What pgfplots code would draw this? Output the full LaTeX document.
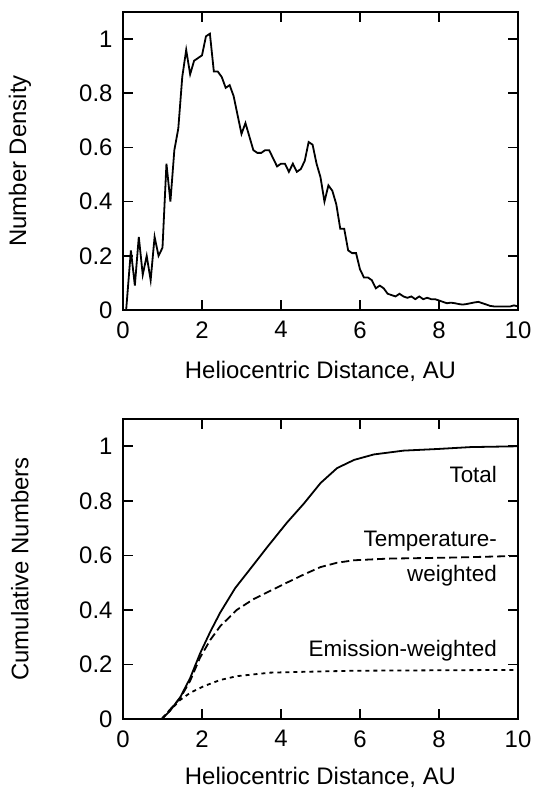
\documentclass[border=0pt]{standalone}
\usepackage{fontspec}
\setmainfont{Liberation Sans}
\usepackage{pgfplots}
\pgfplotsset{compat=1.18}
\begin{document}
\begin{tikzpicture}[x=1bp,y=1bp]
\pgfplotsset{
  myaxis/.style={
    scale only axis,
    width=395bp,
    xmin=0, xmax=10, ymin=0, ymax=1.1,
    xtick={0,2,4,6,8,10},
    ytick={0,0.2,0.4,0.6,0.8,1},
    tick align=inside,
    major tick length=10bp,
    axis line style={line width=1.7bp},
    every tick/.style={line width=1.6bp, black},
    /pgf/number format/assume math mode=true,
    tick label style={font=\fontsize{24}{28}\selectfont},
    yticklabel style={xshift=-7bp},
    xticklabel style={yshift=-8bp},
    xlabel={Heliocentric Distance, AU},
    every axis y label/.style={at={(axis description cs:-0.261,0.5)}, anchor=center, rotate=90, font=\fontsize{24}{28}\selectfont},
  }
}
\begin{axis}[myaxis, at={(123bp,481bp)}, anchor=south west, height=298bp,
  ylabel={Number Density},
  every axis x label/.style={at={(axis description cs:0.5,-0.205)}, anchor=center, font=\fontsize{24}{28}\selectfont}]
\addplot[black, line width=1.8bp] coordinates {
(0.08,0) (0.2,0.22) (0.3,0.09) (0.4,0.27) (0.5,0.13) (0.6,0.20) (0.7,0.11) (0.8,0.27) (0.9,0.20) (1.0,0.23)
(1.1,0.54) (1.2,0.40) (1.3,0.59) (1.4,0.67) (1.5,0.86) (1.6,0.96) (1.7,0.87) (1.8,0.92) (1.9,0.93) (2.0,0.94)
(2.1,1.01) (2.2,1.02) (2.3,0.88) (2.4,0.88) (2.5,0.86) (2.6,0.82) (2.7,0.83) (2.8,0.79) (2.9,0.72) (3.0,0.65)
(3.1,0.69) (3.2,0.64) (3.3,0.59) (3.4,0.58) (3.5,0.58) (3.6,0.59) (3.7,0.59) (3.8,0.56) (3.9,0.53) (4.0,0.54)
(4.1,0.54) (4.2,0.51) (4.3,0.54) (4.4,0.51) (4.5,0.52) (4.6,0.55) (4.7,0.62) (4.8,0.61) (4.9,0.54) (5.0,0.49)
(5.1,0.40) (5.2,0.46) (5.3,0.44) (5.4,0.39) (5.5,0.30) (5.6,0.30) (5.7,0.22) (5.8,0.21) (5.9,0.21) (6.0,0.15)
(6.1,0.12) (6.2,0.12) (6.3,0.11) (6.4,0.08) (6.5,0.09) (6.6,0.08) (6.7,0.06) (6.8,0.055) (6.9,0.05) (7.0,0.06)
(7.1,0.05) (7.2,0.045) (7.3,0.05) (7.4,0.04) (7.5,0.05) (7.6,0.04) (7.7,0.045) (7.8,0.04) (7.9,0.04) (8.0,0.035)
(8.1,0.03) (8.2,0.025) (8.3,0.027) (8.4,0.025) (8.5,0.022) (8.6,0.02) (8.7,0.022) (8.8,0.025) (8.9,0.028) (9.0,0.03)
(9.1,0.025) (9.2,0.02) (9.3,0.015) (9.4,0.013) (9.5,0.013) (9.6,0.013) (9.7,0.013) (9.8,0.013) (9.9,0.017) (10.0,0.013)
};
\end{axis}
\begin{axis}[myaxis, at={(123bp,72bp)}, anchor=south west, height=300bp,
  ylabel={Cumulative Numbers},
  every axis x label/.style={at={(axis description cs:0.5,-0.194)}, anchor=center, font=\fontsize{24}{28}\selectfont}]
\addplot[black, line width=1.8bp] coordinates {
(0,0) (0.98,0) (1.19,0.03) (1.45,0.08) (1.70,0.15) (1.95,0.24) (2.21,0.32) (2.46,0.39) (2.84,0.48)
(3.22,0.55) (3.65,0.63) (4.15,0.72) (4.58,0.79) (5.0,0.865) (5.42,0.92) (5.85,0.95) (6.35,0.97)
(7.1,0.984) (7.96,0.99) (8.8,0.997) (10,1.0)
};
\addplot[black, line width=1.8bp, dash pattern=on 8bp off 4bp] coordinates {
(0,0) (0.98,0) (1.45,0.077) (1.70,0.14) (1.95,0.225) (2.21,0.29) (2.46,0.34) (2.88,0.40) (3.31,0.44)
(3.73,0.47) (4.15,0.50) (4.58,0.53) (5.0,0.557) (5.42,0.573) (5.85,0.582) (6.7,0.588) (8.38,0.592) (10,0.598)
};
\addplot[black, line width=1.8bp, dash pattern=on 4bp off 4bp] coordinates {
(0,0) (0.98,0) (1.45,0.07) (1.70,0.096) (2.04,0.12) (2.46,0.143) (2.88,0.157) (3.73,0.17) (4.58,0.173)
(5.85,0.177) (10,0.18)
};
\node[anchor=east, inner sep=0pt, font=\fontsize{22.5}{26}\selectfont] at (axis cs:9.47,0.898) {Total};
\node[anchor=east, inner sep=0pt, font=\fontsize{22.5}{26}\selectfont] at (axis cs:9.47,0.652) {Temperature-};
\node[anchor=east, inner sep=0pt, font=\fontsize{22.5}{26}\selectfont] at (axis cs:9.47,0.526) {weighted};
\node[anchor=east, inner sep=0pt, font=\fontsize{22.5}{26}\selectfont] at (axis cs:9.47,0.251) {Emission-weighted};
\end{axis}
\pgfresetboundingbox
\path[use as bounding box] (0bp,0bp) rectangle (537bp,791bp);
\end{tikzpicture}
\end{document}
